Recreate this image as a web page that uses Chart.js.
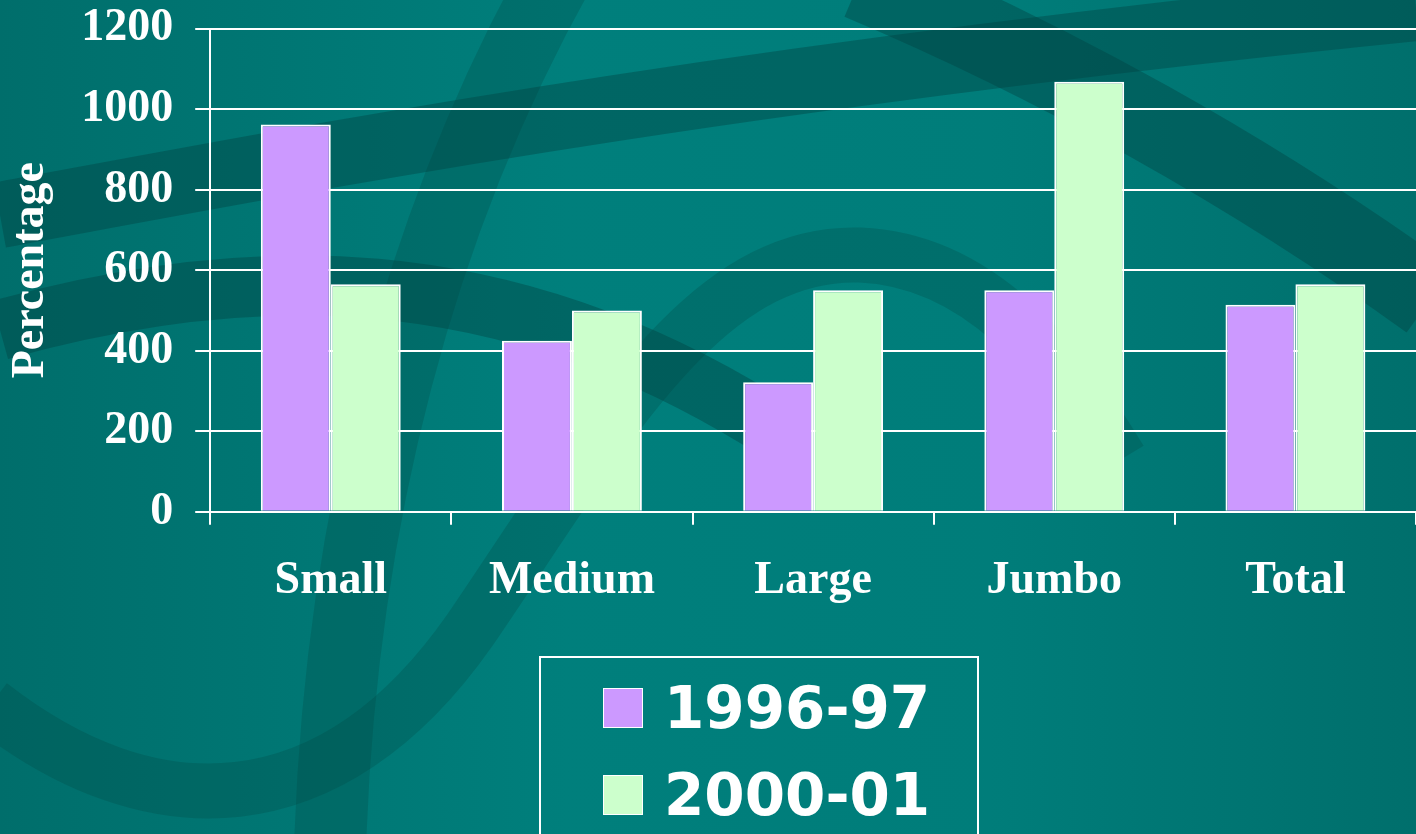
<!DOCTYPE html>
<html lang="en">
<head>
    <meta charset="UTF-8">
    <title>Percentage by size</title>
    <script src="https://cdn.jsdelivr.net/npm/chart.js"></script>
    <style>
        html, body {
            margin: 0;
            padding: 0;
            background: #007b78;
        }

        .page {
            position: relative;
            width: 1416px;
            height: 834px;
            overflow: hidden;
        }

        #sizeChart {
            position: absolute;
            left: 0;
            top: -21px;
        }

        .legend-box {
            position: absolute;
            left: 539px;
            top: 656px;
            width: 436px;
            height: 200px;
            border: 2px solid #ffffff;
        }

        .legend-item {
            position: absolute;
            left: 62px;
            display: flex;
            align-items: center;
            font-family: 'DejaVu Sans', Verdana, sans-serif;
            font-weight: bold;
            font-size: 58px;
            color: #ffffff;
        }

        .legend-item span.swatch {
            display: inline-block;
            width: 38px;
            height: 38px;
            border: 1px solid #ffffff;
            margin-right: 21px;
        }
    </style>
</head>
<body>
    <div class="page">
        <canvas id="sizeChart" width="1416" height="855"></canvas>
        <div class="legend-box" id="legend"></div>
    </div>

    <script>
        const categories = ["Small", "Medium", "Large", "Jumbo", "Total"];
        const seriesNames = ["1996-97", "2000-01"];
        const values1996 = [962, 425, 322, 550, 514];
        const values2000 = [565, 500, 550, 1068, 565];
        const seriesColors = ["#cc99ff", "#ccffcc"];

        // dark swirls in the slide background (page coordinates)
        const backdrop = {
            id: "backdrop",
            beforeDraw(chart) {
                const ctx = chart.ctx;
                const w = chart.width, h = chart.height;
                ctx.save();
                const g = ctx.createLinearGradient(0, 0, w, 0);
                g.addColorStop(0, "#006e6b");
                g.addColorStop(0.4, "#007f7c");
                g.addColorStop(0.7, "#007d7a");
                g.addColorStop(1, "#006f6c");
                ctx.fillStyle = g;
                ctx.fillRect(0, 0, w, h);
                ctx.translate(0, 21);

                ctx.lineCap = "butt";
                ctx.strokeStyle = "rgba(0, 66, 64, 0.4)";

                ctx.lineWidth = 66;
                ctx.beginPath();
                ctx.moveTo(0, 215);
                ctx.bezierCurveTo(300, 160, 700, 80, 1416, 8);
                ctx.stroke();

                ctx.lineWidth = 60;
                ctx.beginPath();
                ctx.moveTo(0, 330);
                ctx.bezierCurveTo(250, 260, 500, 260, 760, 420);
                ctx.stroke();

                ctx.lineWidth = 80;
                ctx.beginPath();
                ctx.moveTo(860, -20);
                ctx.bezierCurveTo(1050, 60, 1250, 170, 1430, 300);
                ctx.stroke();

                ctx.strokeStyle = "rgba(0, 66, 64, 0.25)";
                ctx.lineWidth = 72;
                ctx.beginPath();
                ctx.moveTo(560, -30);
                ctx.bezierCurveTo(420, 220, 340, 520, 330, 850);
                ctx.stroke();

                ctx.lineWidth = 55;
                ctx.beginPath();
                ctx.moveTo(-10, 705);
                ctx.bezierCurveTo(150, 830, 330, 830, 470, 630);
                ctx.bezierCurveTo(600, 440, 700, 250, 860, 255);
                ctx.bezierCurveTo(980, 260, 1060, 360, 1120, 460);
                ctx.stroke();
                ctx.restore();
            }
        };

        const serifFont = { family: "'Liberation Serif', 'Times New Roman', serif", weight: "bold", size: 46 };

        new Chart(document.getElementById("sizeChart"), {
            type: "bar",
            data: {
                labels: categories,
                datasets: [
                    { label: seriesNames[0], data: values1996, backgroundColor: seriesColors[0], borderColor: "#ffffff", borderWidth: 2 },
                    { label: seriesNames[1], data: values2000, backgroundColor: seriesColors[1], borderColor: "#ffffff", borderWidth: 2 }
                ]
            },
            options: {
                responsive: false,
                animation: false,
                categoryPercentage: 0.58,
                barPercentage: 1.0,
                layout: { padding: { left: 0, right: 0, top: 0, bottom: 196 } },
                plugins: {
                    legend: { display: false },
                    tooltip: { enabled: false }
                },
                scales: {
                    x: {
                        grid: { offset: true, drawOnChartArea: false, color: "#ffffff", lineWidth: 2, tickLength: 13 },
                        border: { color: "#ffffff", width: 2 },
                        ticks: { color: "#ffffff", font: serifFont, padding: 29 }
                    },
                    y: {
                        min: 0,
                        max: 1200,
                        ticks: {
                            stepSize: 200,
                            color: "#ffffff",
                            font: serifFont,
                            padding: 22,
                            callback: v => String(v)
                        },
                        grid: { color: "#ffffff", lineWidth: 2, tickLength: 15 },
                        border: { color: "#ffffff", width: 2 },
                        title: {
                            display: true,
                            text: "Percentage",
                            color: "#ffffff",
                            font: serifFont,
                            padding: { top: 4, bottom: 0 }
                        }
                    }
                }
            },
            plugins: [backdrop]
        });

        // legend built from the same series arrays
        const legend = document.getElementById("legend");
        seriesNames.forEach((name, i) => {
            const item = document.createElement("div");
            item.className = "legend-item";
            item.style.top = (i === 0 ? 16 : 103) + "px";
            item.innerHTML = '<span class="swatch" style="background:' + seriesColors[i] + '"></span>' + name;
            legend.appendChild(item);
        });
    </script>
</body>
</html>
